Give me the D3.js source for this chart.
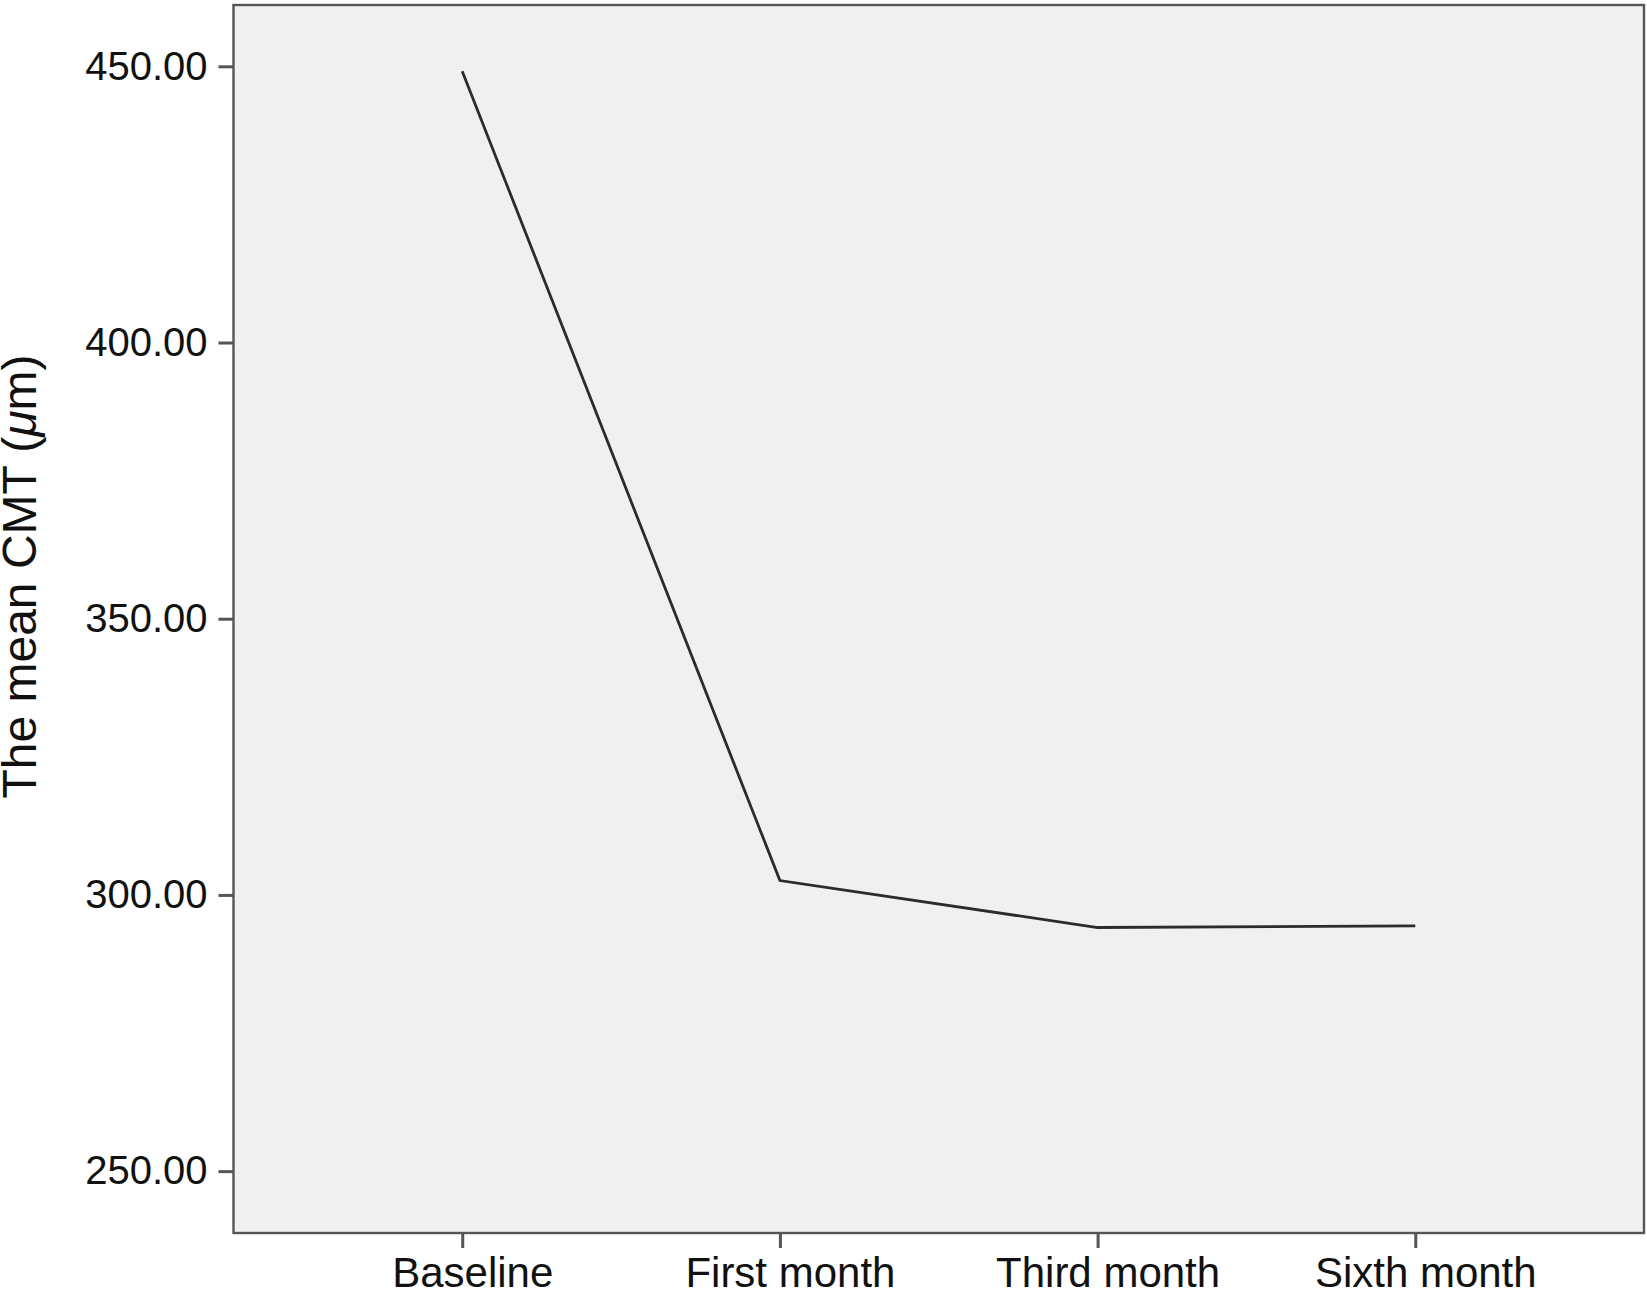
<!DOCTYPE html>
<html>
<head>
<meta charset="utf-8">
<script src="https://cdn.jsdelivr.net/npm/d3@7"></script>
<style>
  html, body { margin: 0; padding: 0; background: #fff; }
  svg { display: block; }
</style>
</head>
<body>
<svg id="chart" width="1647" height="1290"></svg>
<script>
const categories = ["Baseline", "First month", "Third month", "Sixth month"];
const meanCMT = [449.1, 302.6, 294.1, 294.4];
const yTicks = [250, 300, 350, 400, 450];
const yDomain = [238.8, 461.1];

const W = 1647, H = 1290;
const frame = { left: 233.5, right: 1644, top: 5, bottom: 1233 };
const font = "'Liberation Sans', Arial, Helvetica, sans-serif";

const svg = d3.select("#chart");

const x = d3.scalePoint().domain(categories)
  .range([frame.left, frame.right]).padding(0.72);
const y = d3.scaleLinear().domain(yDomain).range([frame.bottom, frame.top]);

// plot background
svg.append("rect")
  .attr("x", frame.left).attr("y", frame.top)
  .attr("width", frame.right - frame.left).attr("height", frame.bottom - frame.top)
  .attr("fill", "#f0f0f0");

// line
const line = d3.line().x((d, i) => x(categories[i])).y(d => y(d));
svg.append("path")
  .datum(meanCMT)
  .attr("d", line)
  .attr("fill", "none")
  .attr("stroke", "#2b2b2b")
  .attr("stroke-width", 2.8)
  .attr("stroke-linejoin", "miter");

// frame
svg.append("rect")
  .attr("x", frame.left).attr("y", frame.top)
  .attr("width", frame.right - frame.left).attr("height", frame.bottom - frame.top)
  .attr("fill", "none")
  .attr("stroke", "#555")
  .attr("stroke-width", 2.4);

// y axis
const yAxis = d3.axisLeft(y).tickValues(yTicks)
  .tickFormat(d3.format(".2f")).tickSize(15).tickPadding(11);
const gy = svg.append("g").attr("transform", `translate(${frame.left},0)`).call(yAxis);
gy.select(".domain").remove();
gy.selectAll(".tick line").attr("stroke", "#555").attr("stroke-width", 3);
gy.selectAll(".tick text")
  .attr("font-family", font).attr("font-size", 40).attr("fill", "#111");

// x axis
const xAxis = d3.axisBottom(x).tickSize(15).tickPadding(10);
const gx = svg.append("g").attr("transform", `translate(0,${frame.bottom})`).call(xAxis);
gx.select(".domain").remove();
gx.selectAll(".tick line").attr("stroke", "#555").attr("stroke-width", 3);
gx.selectAll(".tick text")
  .attr("font-family", font).attr("font-size", 42).attr("fill", "#111")
  .attr("dy", null).attr("y", null)
  .attr("transform", "translate(10,54)");

// y axis title
const title = svg.append("text")
  .attr("transform", `translate(36,576.5) rotate(-90)`)
  .attr("text-anchor", "middle")
  .attr("font-family", font).attr("font-size", 48).attr("fill", "#111");
title.append("tspan").text("The mean CMT (");
title.append("tspan").attr("font-style", "italic").text("μ");
title.append("tspan").text("m)");
</script>
</body>
</html>
